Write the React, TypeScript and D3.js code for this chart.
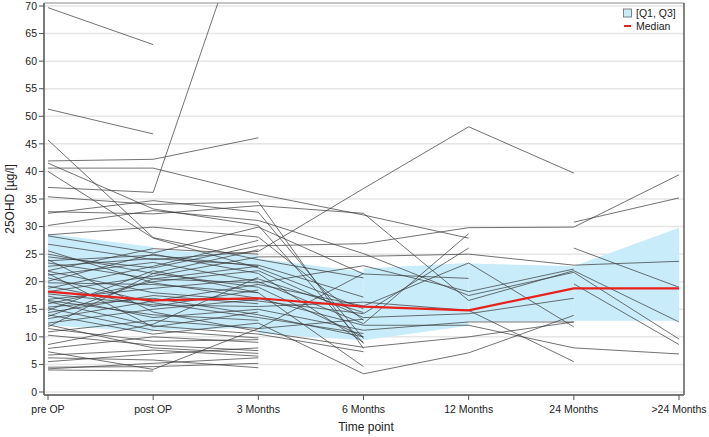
import React from "react";
import * as d3 from "d3";

const timePoints = ["pre OP", "post OP", "3 Months", "6 Months", "12 Months", "24 Months", ">24 Months"];
const yTicks = [0, 5, 10, 15, 20, 25, 30, 35, 40, 45, 50, 55, 60, 65, 70];
const medianValues = [18.2, 16.6, 17.0, 15.5, 14.8, 18.8, 18.8];
// interquartile band, one piece per interval (start / end of each interval)
const q3Start = [28.7, 25.8, 24.2, 22.4, 23.3, 22.8];
const q3End = [26.3, 24.8, 21.8, 23.4, 22.8, 29.8];
const q1Start = [12.1, 11.2, 10.6, 9.4, 12.8, 12.9];
const q1End = [10.9, 11.6, 9.4, 12.0, 12.9, 12.9];

const N = null;
// columns: pre OP, post OP, 3M, 6M, 12M, 24M, >24M
const patients: (number | null)[][] = [
  [69.7, 63.0, N, N, N, N, N],
  [51.3, 46.8, N, N, N, N, N],
  [45.7, 28.0, 24.0, 20.7, N, N, N],
  [41.9, 42.2, 46.1, N, N, N, N],
  [41.5, 33.2, 30.2, 8.8, N, N, N],
  [40.6, 40.6, 35.9, 32.1, 27.9, N, N],
  [40.0, 27.9, 22.5, 15.1, N, N, N],
  [37.1, 36.2, 92.0, N, N, N, N],
  [35.4, 34.0, 34.5, 7.9, N, N, N],
  [32.7, 32.3, 33.8, 32.4, 16.6, 22.0, 12.7],
  [32.4, 34.7, 32.6, 9.7, N, N, N],
  [30.2, 32.9, 31.1, 25.1, 17.5, 21.7, 9.6],
  [28.5, 29.9, 28.1, 13.0, N, N, N],
  [28.3, 25.2, 29.9, 21.4, 20.6, N, N],
  [26.8, 24.0, 25.5, 36.9, 48.1, 39.7, N],
  [25.6, 19.8, 17.0, 12.1, 12.1, 8.0, 6.9],
  [24.5, 22.5, 26.5, 26.9, 29.8, 29.9, 39.4],
  [24.0, 14.5, 11.0, 8.1, 10.0, 12.7, N],
  [23.4, 20.5, 19.8, 22.9, 18.2, 22.3, N],
  [22.8, 24.2, 23.0, 17.2, N, N, N],
  [21.9, 18.0, 16.5, 14.2, 26.1, N, N],
  [21.2, 23.5, 20.0, 12.4, 28.7, N, N],
  [20.7, 16.2, 13.5, 10.6, N, N, N],
  [20.1, 25.0, 21.5, 9.0, N, N, N],
  [19.2, 15.5, 18.5, N, N, N, N],
  [18.2, 21.0, 24.5, 24.6, 25.0, 23.0, 23.7],
  [17.4, 13.5, 15.0, 11.2, 12.7, 12.7, N],
  [16.8, 18.8, 20.5, 14.4, N, N, N],
  [16.4, 12.0, 10.5, 7.3, N, N, N],
  [16.0, 20.0, 22.0, 13.5, 14.2, 17.0, N],
  [15.4, 17.0, 14.0, 10.0, N, N, N],
  [14.8, 22.0, 18.0, 4.6, N, N, N],
  [14.0, 10.5, 12.5, 3.3, 7.1, 13.9, N],
  [13.3, 16.5, 19.5, 15.6, 23.4, 11.8, N],
  [12.5, 15.0, 16.8, N, N, N, N],
  [11.8, 21.5, 25.8, N, N, N, N],
  [11.5, 9.2, 9.5, N, N, N, N],
  [10.9, 13.0, 11.5, 13.2, N, N, N],
  [10.3, 8.5, 7.5, N, N, N, N],
  [8.6, 12.3, 20.8, N, N, N, N],
  [7.9, 10.0, 9.0, N, N, N, N],
  [7.3, 4.1, 11.5, 21.5, N, N, N],
  [6.7, 7.6, 6.5, N, N, N, N],
  [6.2, 5.8, 4.4, N, N, N, N],
  [5.5, 6.9, 8.0, N, N, N, N],
  [4.5, 4.6, 5.2, N, N, N, N],
  [4.2, 5.2, 6.2, N, N, N, N],
  [4.0, 3.8, N, N, N, N, N],
  [12.2, 8.0, 7.0, N, N, N, N],
  [22.0, 26.0, 25.0, N, N, N, N],
  [19.8, 19.5, 18.0, N, N, N, N],
  [17.8, 15.8, 15.5, 16.3, 14.8, 5.5, N],
  [16.6, 14.0, 13.0, N, N, N, N],
  [15.2, 11.2, 9.8, N, N, N, N],
  [14.4, 17.5, 16.0, N, N, N, N],
  [23.8, 24.8, 22.8, N, N, N, N],
  [25.0, 21.5, 19.0, 10.0, N, N, N],
  [21.5, 11.8, 14.5, N, N, N, N],
  [13.7, 20.5, 22.8, N, N, N, N],
  [18.8, 22.8, 27.5, N, N, N, N],
  [N, N, N, N, N, 30.8, 35.2],
  [N, N, N, N, N, 26.1, 19.0],
  [N, N, N, N, N, 19.6, 8.6],
];

const BAND = "#c8ecfa";
const FONT = "'Liberation Sans', Arial, sans-serif";

export default function App() {
  const W = 709;
  const H = 437;
  const left = 44, right = 684, top = 3, bottom = 395;
  const x = d3.scalePoint<string>().domain(timePoints).range([48, 679]);
  const y = d3.scaleLinear().domain([0, 70]).range([392, 6]);

  const line = d3
    .line<number | null>()
    .defined((d) => d != null)
    .x((_, i) => x(timePoints[i]) as number)
    .y((d) => y(d as number));

  const bandArea = d3
    .area<{ xv: number; lo: number; hi: number }>()
    .x((d) => d.xv)
    .y0((d) => y(d.lo))
    .y1((d) => y(d.hi));

  const bands = q3Start.map((_, i) =>
    bandArea([
      { xv: x(timePoints[i]) as number, lo: q1Start[i], hi: q3Start[i] },
      { xv: x(timePoints[i + 1]) as number, lo: q1End[i], hi: q3End[i] },
    ])
  );

  return (
    <svg width={W} height={H} style={{ position: "absolute", left: 0, top: 0, background: "#fff" }} fontFamily={FONT}>
      <defs>
        <clipPath id="plotClip">
          <rect x={left} y={top} width={right - left} height={bottom - top} />
        </clipPath>
      </defs>
      {/* grid */}
      {yTicks.map((t) => (
        <line key={"g" + t} x1={left} x2={right} y1={y(t)} y2={y(t)} stroke="#e6e6e6" strokeWidth={1.5} />
      ))}
      <g clipPath="url(#plotClip)">
        {bands.map((d, i) => (
          <path key={"b" + i} d={d || ""} fill={BAND} stroke="none" />
        ))}
        {patients.map((p, i) => (
          <path key={"p" + i} d={line(p) || ""} fill="none" stroke="#3c3c3c" strokeOpacity={0.72} strokeWidth={1} />
        ))}
        <path d={line(medianValues) || ""} fill="none" stroke="#e8211c" strokeWidth={2.2} />
      </g>
      {/* frame */}
      <line x1={left} x2={right} y1={top} y2={top} stroke="#8a8a8a" strokeWidth={1} />
      <line x1={right} x2={right} y1={top} y2={bottom} stroke="#333" strokeWidth={1.2} />
      <line x1={left} x2={left} y1={top} y2={bottom} stroke="#7a7a7a" strokeWidth={2} />
      <line x1={left} x2={right} y1={bottom} y2={bottom} stroke="#7a7a7a" strokeWidth={2} />
      {/* y axis */}
      {yTicks.map((t) => (
        <g key={"y" + t}>
          <line x1={39} x2={left} y1={y(t)} y2={y(t)} stroke="#555" strokeWidth={1} />
          <text x={37} y={y(t)} dy="0.35em" textAnchor="end" fontSize={10.5} fill="#222">
            {t}
          </text>
        </g>
      ))}
      {/* x axis */}
      {timePoints.map((c) => (
        <g key={"x" + c}>
          <line x1={x(c)} x2={x(c)} y1={bottom} y2={bottom + 5} stroke="#555" strokeWidth={1} />
          <text x={x(c)} y={413} textAnchor="middle" fontSize={10.5} fill="#222">
            {c}
          </text>
        </g>
      ))}
      <text x={366} y={431} textAnchor="middle" fontSize={12} fill="#222">
        Time point
      </text>
      <text transform={`translate(14,199) rotate(-90)`} textAnchor="middle" fontSize={12} fill="#222">
        25OHD [µg/l]
      </text>
      {/* legend */}
      <rect x={623.5} y={9} width={8} height={8} fill={BAND} stroke="#666" strokeWidth={0.8} />
      <text x={636} y={17} fontSize={10.5} fill="#222">
        [Q1, Q3]
      </text>
      <line x1={624} x2={631} y1={26} y2={26} stroke="#e8211c" strokeWidth={2} />
      <text x={636} y={30} fontSize={10.5} fill="#222">
        Median
      </text>
    </svg>
  );
}
